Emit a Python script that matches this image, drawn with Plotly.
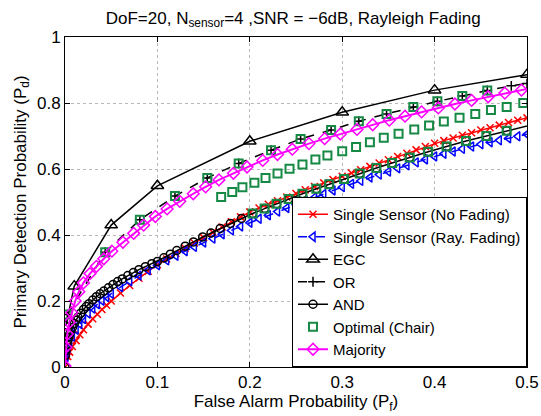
import plotly.graph_objects as go

# ---------------- data ----------------
nofade_x = [0, 0.001, 0.003, 0.005, 0.008, 0.012, 0.016, 0.02, 0.025, 0.03, 0.035, 0.04, 0.045,
            0.05, 0.06, 0.07, 0.08, 0.09, 0.10, 0.11, 0.12, 0.13, 0.14, 0.15, 0.16, 0.17, 0.18, 0.19,
            0.20, 0.21, 0.22, 0.23, 0.24, 0.25, 0.26, 0.27, 0.28, 0.29, 0.30, 0.31, 0.32, 0.33, 0.34,
            0.35, 0.36, 0.37, 0.38, 0.39, 0.40, 0.41, 0.42, 0.43, 0.44, 0.45, 0.46, 0.47, 0.48, 0.49, 0.50]
nofade_y = [0, 0.015, 0.032, 0.045, 0.062, 0.080, 0.098, 0.113, 0.130, 0.146, 0.160, 0.174, 0.187,
            0.200, 0.224, 0.247, 0.269, 0.290, 0.310, 0.327, 0.344, 0.360, 0.376, 0.392, 0.408, 0.424, 0.440, 0.455,
            0.470, 0.482, 0.493, 0.504, 0.515, 0.526, 0.537, 0.547, 0.558, 0.568, 0.578, 0.588, 0.598, 0.608, 0.618,
            0.628, 0.638, 0.648, 0.658, 0.668, 0.678, 0.686, 0.694, 0.702, 0.710, 0.718, 0.725, 0.733, 0.741, 0.748, 0.755]

rayfade_x = nofade_x[1:]
rayfade_y = [0.030, 0.055, 0.072, 0.092, 0.113, 0.130, 0.145, 0.162, 0.177, 0.190, 0.201, 0.212,
             0.222, 0.242, 0.260, 0.277, 0.293, 0.308, 0.323, 0.337, 0.351, 0.364, 0.377, 0.389, 0.402, 0.414, 0.426,
             0.437, 0.449, 0.460, 0.471, 0.482, 0.492, 0.503, 0.514, 0.524, 0.535, 0.545, 0.555, 0.564, 0.574, 0.583,
             0.592, 0.602, 0.611, 0.620, 0.629, 0.638, 0.646, 0.653, 0.661, 0.668, 0.675, 0.681, 0.687, 0.693, 0.699, 0.705]

egc_x = [0.001, 0.01, 0.05, 0.1, 0.2, 0.3, 0.4, 0.5]
egc_y = [0.124, 0.245, 0.430, 0.549, 0.684, 0.772, 0.839, 0.886]

or_x = [0.0025, 0.0435, 0.081, 0.119, 0.154, 0.188, 0.223, 0.255, 0.288, 0.318, 0.348, 0.377,
        0.403, 0.430, 0.457, 0.483, 0.500]
or_y = [0.159, 0.348, 0.446, 0.518, 0.573, 0.617, 0.657, 0.691, 0.718, 0.745, 0.767, 0.788,
        0.805, 0.821, 0.838, 0.852, 0.859]

and_x = [0, 0.0005, 0.001, 0.002, 0.003, 0.004, 0.005, 0.0065, 0.008, 0.01, 0.012, 0.014, 0.017,
         0.02, 0.023, 0.026, 0.03, 0.034, 0.038, 0.042, 0.047, 0.052, 0.057, 0.062, 0.068, 0.074,
         0.08, 0.087, 0.094, 0.1, 0.107, 0.114, 0.121, 0.13, 0.139, 0.149, 0.158, 0.168, 0.179,
         0.191, 0.203, 0.216, 0.229, 0.242, 0.257, 0.272, 0.286, 0.302, 0.319, 0.337, 0.354, 0.373,
         0.393, 0.413, 0.434, 0.456, 0.478, 0.522]
and_y = [0, 0.035, 0.050, 0.068, 0.080, 0.090, 0.099, 0.110, 0.120, 0.132, 0.142, 0.151, 0.163,
         0.174, 0.183, 0.192, 0.203, 0.213, 0.222, 0.230, 0.240, 0.250, 0.259, 0.267, 0.277, 0.286,
         0.295, 0.304, 0.313, 0.320, 0.331, 0.342, 0.353, 0.366, 0.379, 0.394, 0.406, 0.420, 0.435,
         0.450, 0.465, 0.480, 0.495, 0.509, 0.525, 0.540, 0.554, 0.570, 0.586, 0.603, 0.618, 0.635,
         0.652, 0.668, 0.685, 0.700, 0.716, 0.745]

opt_x = [0.0025, 0.0435, 0.081, 0.119, 0.154, 0.188, 0.223, 0.255, 0.288, 0.318, 0.348, 0.377,
         0.403, 0.430, 0.457,
         0.169, 0.181, 0.192, 0.205, 0.217, 0.230, 0.243, 0.257, 0.271, 0.284, 0.300, 0.315,
         0.330, 0.345, 0.361, 0.378, 0.394, 0.410, 0.427, 0.444, 0.461, 0.478, 0.496,
         0.203, 0.216, 0.229, 0.242, 0.257, 0.272, 0.286, 0.302, 0.319, 0.337, 0.354, 0.373,
         0.393, 0.413, 0.434, 0.456, 0.478]
opt_y = [0.159, 0.348, 0.446, 0.518, 0.573, 0.617, 0.657, 0.691, 0.718, 0.745, 0.767, 0.788,
         0.805, 0.821, 0.838,
         0.515, 0.530, 0.545, 0.558, 0.573, 0.586, 0.601, 0.614, 0.629, 0.641, 0.654, 0.667,
         0.681, 0.695, 0.707, 0.720, 0.732, 0.744, 0.755, 0.767, 0.779, 0.788, 0.800,
         0.465, 0.480, 0.495, 0.509, 0.525, 0.540, 0.554, 0.570, 0.586, 0.603, 0.618, 0.635,
         0.652, 0.668, 0.685, 0.700, 0.716]

maj_x = [0, 0.001, 0.0025, 0.0047, 0.0073, 0.011, 0.015, 0.02, 0.027, 0.034, 0.042, 0.0507,
         0.0627, 0.0743, 0.0851, 0.0978, 0.1105, 0.1242, 0.1388, 0.1522, 0.1666, 0.1823, 0.197,
         0.214, 0.23, 0.246, 0.264, 0.281, 0.298, 0.316, 0.333, 0.351, 0.368, 0.386, 0.404, 0.422,
         0.44, 0.458, 0.476, 0.494, 0.512]
maj_y = [0.003, 0.060, 0.100, 0.135, 0.165, 0.200, 0.228, 0.255, 0.283, 0.305, 0.328, 0.351,
         0.378, 0.405, 0.430, 0.456, 0.479, 0.502, 0.525, 0.546, 0.567, 0.587, 0.606,
         0.626, 0.644, 0.660, 0.677, 0.692, 0.706, 0.720, 0.734, 0.748, 0.760, 0.773, 0.785, 0.797,
         0.808, 0.819, 0.830, 0.839, 0.849]

names = ["Single Sensor (No Fading)", "Single Sensor (Ray. Fading)", "EGC", "OR", "AND",
         "Optimal (Chair)", "Majority"]
x_ticks = [0, 0.1, 0.2, 0.3, 0.4, 0.5]
x_tick_labels = ["0", "0.1", "0.2", "0.3", "0.4", "0.5"]
y_ticks = [0, 0.2, 0.4, 0.6, 0.8, 1.0]
y_tick_labels = ["0", "0.2", "0.4", "0.6", "0.8", "1"]

title_text = "DoF=20, N<sub>sensor</sub>=4 ,SNR = \u22126dB, Rayleigh Fading"
x_title = "False Alarm Probability (P<sub>f</sub>)"
y_title = "Primary Detection Probability (P<sub>d</sub>)"

# ---------------- figure ----------------
FONT = "Liberation Sans, Arial, Helvetica, sans-serif"
GREEN = "#168a45"

fig = go.Figure()
fig.add_trace(go.Scatter(x=nofade_x, y=nofade_y, name=names[0], mode="lines+markers",
                         line=dict(color="#ff0000", width=1.5),
                         marker=dict(symbol="x-thin", size=7, color="#ff0000",
                                     line=dict(color="#ff0000", width=1.5))))
fig.add_trace(go.Scatter(x=rayfade_x, y=rayfade_y, name=names[1], mode="lines+markers",
                         line=dict(color="#0000ff", width=1.5, dash="dash"),
                         marker=dict(symbol="triangle-left-open", size=8, color="#0000ff",
                                     line=dict(color="#0000ff", width=1.5))))
fig.add_trace(go.Scatter(x=egc_x, y=egc_y, name=names[2], mode="lines+markers",
                         line=dict(color="black", width=1.5),
                         marker=dict(symbol="triangle-up-open", size=11, color="black",
                                     line=dict(color="black", width=1.5))))
fig.add_trace(go.Scatter(x=or_x, y=or_y, name=names[3], mode="lines+markers",
                         line=dict(color="black", width=1.5, dash="dash"),
                         marker=dict(symbol="cross-thin", size=7, color="black",
                                     line=dict(color="black", width=1.5))))
fig.add_trace(go.Scatter(x=and_x, y=and_y, name=names[4], mode="lines+markers",
                         line=dict(color="black", width=1.5),
                         marker=dict(symbol="circle-open", size=8, color="black",
                                     line=dict(color="black", width=1.5))))
fig.add_trace(go.Scatter(x=opt_x, y=opt_y, name=names[5], mode="markers",
                         marker=dict(symbol="square-open", size=8, color=GREEN,
                                     line=dict(color=GREEN, width=2))))
fig.add_trace(go.Scatter(x=maj_x, y=maj_y, name=names[6], mode="lines+markers",
                         line=dict(color="#ff00ff", width=2),
                         marker=dict(symbol="diamond-open", size=9, color="#ff00ff",
                                     line=dict(color="#ff00ff", width=1.5))))

axis_common = dict(showline=True, linecolor="black", linewidth=1, mirror="ticks",
                   ticks="inside", ticklen=5, tickcolor="black", automargin=False,
                   showgrid=True, gridcolor="#b8b8b8", griddash="dot", gridwidth=1,
                   zeroline=False, tickfont=dict(family=FONT, size=17, color="black"))

fig.update_xaxes(range=[0, 0.5], tickvals=x_ticks, ticktext=x_tick_labels,
                 title=dict(text=x_title, font=dict(family=FONT, size=17, color="black"), standoff=1),
                 **axis_common)
fig.update_yaxes(range=[0, 1], tickvals=y_ticks, ticktext=y_tick_labels,
                 title=dict(text=y_title, font=dict(family=FONT, size=17, color="black"), standoff=6),
                 **axis_common)

fig.update_layout(
    width=541, height=416,
    margin=dict(l=65, r=14, t=37, b=49),
    paper_bgcolor="white", plot_bgcolor="white",
    font=dict(family=FONT, size=17, color="black"),
    title=dict(text=title_text, x=0.542, xanchor="center", y=0.957, yanchor="middle",
               font=dict(family=FONT, size=17, color="black")),
    legend=dict(x=1, y=0, xanchor="right", yanchor="bottom", bgcolor="white",
                bordercolor="black", borderwidth=1, itemwidth=30,
                font=dict(family=FONT, size=15, color="black"), tracegroupgap=0),
    showlegend=True,
)

fig.write_html("out.html", config={"displayModeBar": False})

# remove the default page margin so the 541x416 figure fills the window exactly
with open("out.html", "r", encoding="utf-8") as fh:
    page = fh.read()
page = page.replace("<head>", "<head><style>html,body{margin:0;padding:0;overflow:hidden;}</style>", 1)
with open("out.html", "w", encoding="utf-8") as fh:
    fh.write(page)
